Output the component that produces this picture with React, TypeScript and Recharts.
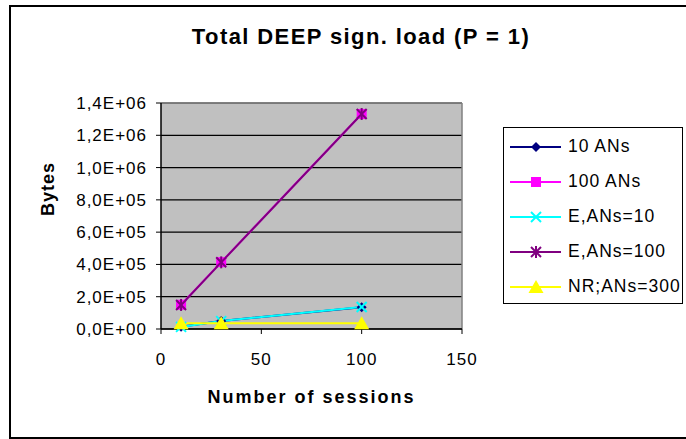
import React from 'react';
import { LineChart, Line, XAxis, YAxis, CartesianGrid, ReferenceLine } from 'recharts';

const sessions = [10, 30, 100];
const an10 = [14000, 50000, 135000];
const an100 = [150000, 414000, 1332000];
const e10 = [13000, 49000, 136000];
const e100 = [149000, 413000, 1332000];
const nr300 = [35000, 35000, 35000];

const yTicks = [0, 200000, 400000, 600000, 800000, 1000000, 1200000, 1400000];
const xTicks = [0, 50, 100, 150];

const FONT = '"Liberation Sans", Arial, sans-serif';

const chartData = sessions.map((s, i) => ({
  s,
  an10: an10[i],
  an100: an100[i],
  e10: e10[i],
  e100: e100[i],
  nr300: nr300[i],
}));

// excel style 1,4E+06
const fmtSci = (v: number) => {
  if (v === 0) return '0,0E+00';
  const exp = Math.floor(Math.log10(v));
  const m = v / Math.pow(10, exp);
  const sign = exp < 0 ? '-' : '+';
  return `${m.toFixed(1).replace('.', ',')}E${sign}${String(Math.abs(exp)).padStart(2, '0')}`;
};

type Mk = 'diamond' | 'square' | 'x' | 'star' | 'triangle';

function Marker({ cx, cy, kind, color }: { cx: number; cy: number; kind: Mk; color: string }) {
  if (cx == null || cy == null) return null;
  switch (kind) {
    case 'diamond':
      return <polygon points={`${cx},${cy - 5} ${cx + 5},${cy} ${cx},${cy + 5} ${cx - 5},${cy}`} fill={color} />;
    case 'square':
      return <rect x={cx - 5} y={cy - 5} width={10} height={10} fill={color} />;
    case 'x':
      return (
        <g stroke={color} strokeWidth={2}>
          <line x1={cx - 5} y1={cy - 5} x2={cx + 5} y2={cy + 5} />
          <line x1={cx - 5} y1={cy + 5} x2={cx + 5} y2={cy - 5} />
        </g>
      );
    case 'star':
      return (
        <g stroke={color} strokeWidth={2}>
          <line x1={cx - 5} y1={cy - 5} x2={cx + 5} y2={cy + 5} />
          <line x1={cx - 5} y1={cy + 5} x2={cx + 5} y2={cy - 5} />
          <line x1={cx} y1={cy - 6} x2={cx} y2={cy + 6} />
        </g>
      );
    case 'triangle':
      return <polygon points={`${cx},${cy - 7} ${cx + 7.5},${cy + 6} ${cx - 7.5},${cy + 6}`} fill={color} />;
  }
  return null;
}

const series: { key: string; name: string; color: string; marker: Mk }[] = [
  { key: 'an10', name: '10 ANs', color: '#000080', marker: 'diamond' },
  { key: 'an100', name: '100 ANs', color: '#FF00FF', marker: 'square' },
  { key: 'e10', name: 'E,ANs=10', color: '#00FFFF', marker: 'x' },
  { key: 'e100', name: 'E,ANs=100', color: '#800080', marker: 'star' },
  { key: 'nr300', name: 'NR;ANs=300', color: '#FFFF00', marker: 'triangle' },
];

function LegendBox() {
  return (
    <div
      style={{
        position: 'absolute',
        left: 503,
        top: 127,
        width: 180,
        height: 177,
        boxSizing: 'border-box',
        border: '1px solid #000',
        background: '#fff',
        paddingTop: 1,
        fontFamily: FONT,
      }}
    >
      {series.map((s) => (
        <div key={s.key} style={{ display: 'flex', alignItems: 'center', height: 35 }}>
          <svg width={58} height={20} style={{ marginLeft: 6, flex: 'none' }}>
            <line x1={0} y1={10} x2={51} y2={10} stroke={s.color} strokeWidth={2} />
            <Marker cx={26} cy={10} kind={s.marker} color={s.color} />
          </svg>
          <span style={{ fontSize: 17.5, letterSpacing: 1, color: '#000', whiteSpace: 'nowrap' }}>{s.name}</span>
        </div>
      ))}
    </div>
  );
}

export default function App() {
  return (
    <div style={{ position: 'absolute', left: 0, top: 0, width: 686, height: 439, background: '#fff', overflow: 'hidden' }}>
      <div
        style={{
          position: 'absolute',
          left: 9,
          top: 5,
          width: 700,
          height: 434,
          boxSizing: 'border-box',
          border: '2px solid #000',
        }}
      />
      <div
        style={{
          position: 'absolute',
          left: 0,
          width: 722,
          top: 24,
          textAlign: 'center',
          fontFamily: FONT,
          fontWeight: 'bold',
          fontSize: 22,
          letterSpacing: 1.4,
          color: '#000',
        }}
      >
        Total DEEP sign. load (P = 1)
      </div>
      <div style={{ position: 'absolute', left: 0, top: 0 }}>
        <LineChart
          width={686}
          height={439}
          data={chartData}
          margin={{ top: 103, right: 224, bottom: 30, left: 0 }}
          style={{ fontFamily: FONT }}
        >
          <CartesianGrid fill="#C0C0C0" vertical={false} stroke="#000" strokeWidth={1.2} />
          <XAxis
            dataKey="s"
            type="number"
            domain={[0, 150]}
            ticks={xTicks}
            interval={0}
            height={80}
            tickSize={5}
            tickMargin={19}
            axisLine={{ stroke: '#000', strokeWidth: 1.5 }}
            tickLine={{ stroke: '#000' }}
            tick={{ fill: '#000', fontSize: 17, fontFamily: FONT, letterSpacing: 1 }}
            label={{
              value: 'Number of sessions',
              position: 'insideBottom',
              offset: 6,
              fill: '#000',
              fontSize: 18,
              fontWeight: 'bold',
              letterSpacing: 2,
              fontFamily: FONT,
            }}
          />
          <YAxis
            type="number"
            domain={[0, 1400000]}
            ticks={yTicks}
            interval={0}
            width={161}
            tickSize={5}
            tickMargin={9}
            tickFormatter={fmtSci}
            axisLine={{ stroke: '#000', strokeWidth: 1.5 }}
            tickLine={{ stroke: '#000' }}
            tick={{ fill: '#000', fontSize: 17, fontFamily: FONT, letterSpacing: 1 }}
            label={{
              value: 'Bytes',
              angle: -90,
              position: 'insideLeft',
              offset: 48,
              fill: '#000',
              fontSize: 18,
              fontWeight: 'bold',
              letterSpacing: 1,
              fontFamily: FONT,
            }}
          />
          <ReferenceLine y={1400000} stroke="#808080" strokeWidth={1.5} />
          <ReferenceLine x={150} stroke="#808080" strokeWidth={1.5} />
          {series.map((s) => (
            <Line
              key={s.key}
              dataKey={s.key}
              name={s.name}
              stroke={s.color}
              strokeWidth={2}
              isAnimationActive={false}
              dot={(p: any) => <Marker key={`${s.key}-${p.index}`} cx={p.cx} cy={p.cy} kind={s.marker} color={s.color} />}
              activeDot={false}
            />
          ))}
        </LineChart>
      </div>
      <LegendBox />
    </div>
  );
}
